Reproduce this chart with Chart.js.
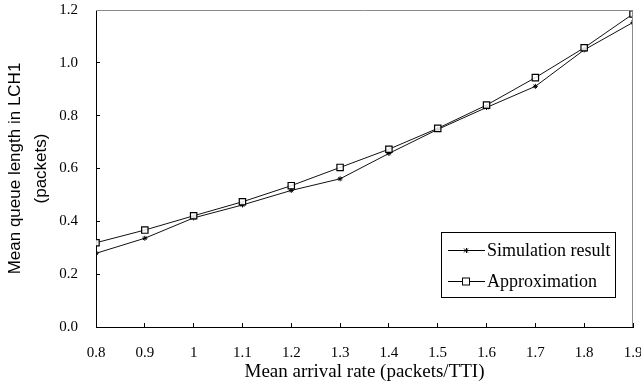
<!DOCTYPE html>
<html>
<head>
<meta charset="utf-8">
<script src="https://cdn.jsdelivr.net/npm/chart.js@4/dist/chart.umd.min.js"></script>
<style>
html,body{margin:0;padding:0;background:#fff;}
#wrap{width:641px;height:391px;}
</style>
</head>
<body>
<div id="wrap"><canvas id="c" width="641" height="391"></canvas></div>
<script>
const arrivalRates = [0.8, 0.9, 1.0, 1.1, 1.2, 1.3, 1.4, 1.5, 1.6, 1.7, 1.8, 1.9];
const simulationResult = [0.279, 0.336, 0.413, 0.462, 0.517, 0.561, 0.657, 0.748, 0.831, 0.911, 1.049, 1.153];
const approximation = [0.319, 0.367, 0.421, 0.474, 0.535, 0.604, 0.673, 0.752, 0.840, 0.944, 1.057, 1.185];
const xTickLabels = ['0.8','0.9','1','1.1','1.2','1.3','1.4','1.5','1.6','1.7','1.8','1.9'];
const yTickLabels = ['0.0','0.2','0.4','0.6','0.8','1.0','1.2'];
const seriesNames = ['Simulation result', 'Approximation'];
const xTitle = 'Mean arrival rate (packets/TTI)';
const yTitle = ['Mean queue length in LCH1', '(packets)'];

const frame = {
  id: 'frame',
  afterDatasetsDraw(chart) {
    const {ctx, chartArea: a} = chart;
    ctx.save();
    ctx.strokeStyle = '#8a8a8a';
    ctx.lineWidth = 1;
    ctx.beginPath();
    ctx.moveTo(a.left, a.top + 0.5);
    ctx.lineTo(a.right - 0.5, a.top + 0.5);
    ctx.lineTo(a.right - 0.5, a.bottom);
    ctx.stroke();
    ctx.restore();
  },
  afterDraw(chart) {
    const {ctx, chartArea: a} = chart;
    const bx = a.right - 192, by = a.bottom - 95, bw = 174, bh = 65;
    ctx.save();
    ctx.fillStyle = '#fff';
    ctx.fillRect(bx, by, bw, bh);
    ctx.strokeStyle = '#000';
    ctx.lineWidth = 1;
    ctx.strokeRect(bx + 0.5, by + 0.5, bw, bh);
    ctx.font = '18px "Liberation Serif", "Times New Roman", serif';
    ctx.textBaseline = 'middle';
    ctx.fillStyle = '#000';
    const rows = [by + 18, by + 49];
    rows.forEach((y, i) => {
      ctx.strokeStyle = '#000';
      ctx.beginPath();
      ctx.moveTo(bx + 7, y + 0.5);
      ctx.lineTo(bx + 44, y + 0.5);
      ctx.stroke();
      const cx = bx + 25;
      if (i === 0) {
        ctx.beginPath();
        ctx.moveTo(cx - 2, y - 1.5); ctx.lineTo(cx + 2, y + 2.5);
        ctx.moveTo(cx + 2, y - 1.5); ctx.lineTo(cx - 2, y + 2.5);
        ctx.moveTo(cx + 0.5, y - 2); ctx.lineTo(cx + 0.5, y + 3);
        ctx.stroke();
      } else {
        ctx.fillStyle = '#fff';
        ctx.fillRect(cx - 4, y - 3.5, 8, 8);
        ctx.strokeRect(cx - 3.5, y - 3, 7, 7);
        ctx.fillStyle = '#000';
      }
      ctx.fillText(seriesNames[i], bx + 46, y + 1);
    });
    ctx.restore();
  }
};

new Chart(document.getElementById('c'), {
  type: 'line',
  data: {
    datasets: [
      {
        label: seriesNames[1],
        data: arrivalRates.map((x, i) => ({x, y: approximation[i]})),
        borderColor: '#111',
        borderWidth: 1,
        pointStyle: 'rect',
        pointRadius: 4.5,
        pointBorderWidth: 1.2,
        pointBackgroundColor: 'rgba(255,255,255,0.85)',
        pointBorderColor: '#000',
        tension: 0
      },
      {
        label: seriesNames[0],
        data: arrivalRates.map((x, i) => ({x, y: simulationResult[i]})),
        borderColor: '#111',
        borderWidth: 1,
        pointStyle: 'star',
        pointRadius: 2.5,
        pointBorderWidth: 1,
        pointBorderColor: '#000',
        tension: 0
      }
    ]
  },
  options: {
    responsive: false,
    animation: false,
    devicePixelRatio: 1,
    layout: {padding: {top: 10, right: 8, left: 0, bottom: 0}},
    plugins: {legend: {display: false}, tooltip: {enabled: false}},
    scales: {
      x: {
        type: 'linear',
        min: 0.8, max: 1.9,
        afterBuildTicks(s) { s.ticks = arrivalRates.map(v => ({value: v})); },
        afterFit(s) { s.height = 64; s.paddingRight = 8; s.paddingLeft = 0; },
        ticks: {
          callback: (v, i) => xTickLabels[i],
          color: '#000',
          font: {family: '"Liberation Serif", "Times New Roman", serif', size: 15},
          padding: 21,
          maxRotation: 0, autoSkip: false
        },
        grid: {drawOnChartArea: false, tickLength: -4, color: '#000'},
        border: {color: '#000', width: 1},
        title: {
          display: true, text: xTitle, color: '#000',
          font: {family: '"Liberation Serif", "Times New Roman", serif', size: 19},
          padding: {top: 0, bottom: 8}
        }
      },
      y: {
        min: 0, max: 1.2,
        afterBuildTicks(s) { s.ticks = yTickLabels.map(t => ({value: parseFloat(t)})); },
        afterFit(s) { s.width = 96; s.paddingTop = 0; s.paddingBottom = 0; },
        ticks: {
          callback: (v, i) => yTickLabels[i],
          color: '#000',
          font: {family: '"Liberation Serif", "Times New Roman", serif', size: 15},
          padding: 22
        },
        grid: {drawOnChartArea: false, tickLength: -4, color: '#000'},
        border: {color: '#000', width: 1},
        title: {
          display: true, text: yTitle, color: '#000',
          font: {family: '"Liberation Sans", Arial, sans-serif', size: 17, lineHeight: 1.53},
          padding: {top: 2, bottom: 0}
        }
      }
    }
  },
  plugins: [frame]
});
</script>
</body>
</html>
